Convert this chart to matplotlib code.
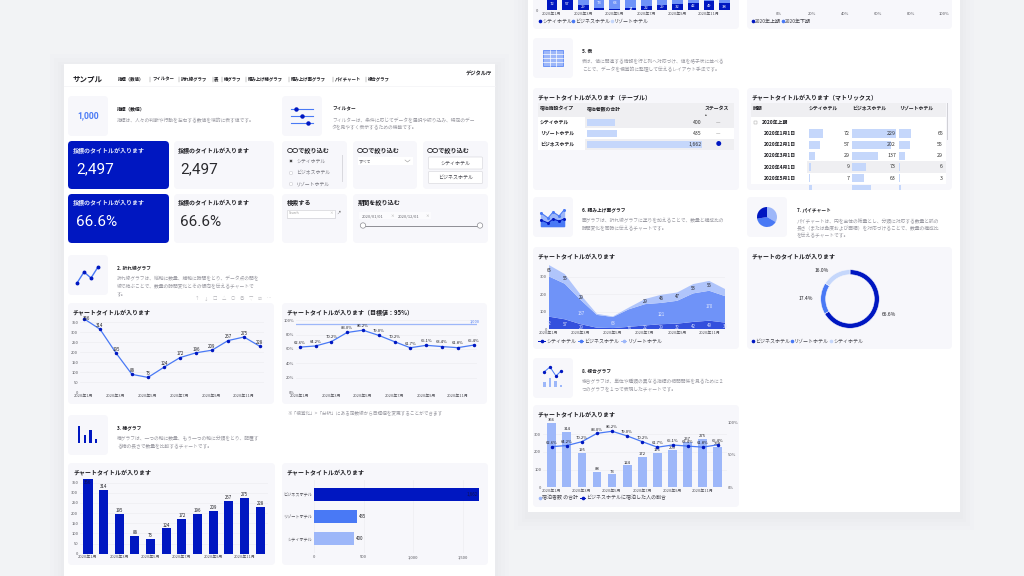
import matplotlib
matplotlib.use("Agg")
import matplotlib.pyplot as plt
from matplotlib.patches import FancyBboxPatch, Rectangle, Circle, Wedge

plt.rcParams['font.family'] = ['Noto Sans CJK JP', 'DejaVu Sans']

# ---------- data ----------
months = [f"2020年{m}月" for m in range(1, 13)]
total_guests = [366, 314, 195, 88, 73, 124, 172, 196, 209, 257, 275, 228]
business_ratio = [62.6, 64.2, 70.2, 83.0, 86.2, 79.0, 70.2, 61.7, 65.1, 63.4, 61.8, 65.4]
city = [72, 57, 29, 9, 7, 14, 22, 29, 32, 42, 49, 38]
business = [229, 202, 137, 73, 63, 100, 121, 121, 130, 162, 170, 150]
resort = [65, 55, 29, 6, 3, 10, 29, 46, 47, 53, 56, 40]
hotel_names = ["シティホテル", "リゾートホテル", "ビジネスホテル"]
hotel_totals = [400, 435, 1662]
half_share = [46.7, 53.3]
donut_labels = ["ビジネスホテル", "リゾートホテル", "シティホテル"]
donut_share = [66.6, 17.4, 16.0]
matrix_dates = ["2020年1月1日", "2020年2月1日", "2020年3月1日", "2020年4月1日", "2020年5月1日"]
matrix_city = [72, 57, 29, 9, 7, 14]
matrix_business = [229, 202, 137, 73, 63, 100]
matrix_resort = [65, 55, 29, 6, 3, 10]
target = 95

# ---------- style ----------
DARK = "#0017C1"; MID = "#4979F5"; LIGHT = "#9DB7F9"; PALE = "#C5D7FB"
AREA_CITY = "#3350DD"; AREA_BIZ = "#6F93F8"; AREA_RES = "#B0C5FB"
PANEL = "#F7F7FB"; INK = "#1F1F24"; GRAY = "#9A9AA2"; BG = "#F2F3F5"; GRID = "#EDEDF2"

fig = plt.figure(figsize=(10.24, 5.76), dpi=100, facecolor=BG)
W, H = 1024, 576
ov = fig.add_axes([0, 0, 1, 1], zorder=0)
ov.set_xlim(0, W); ov.set_ylim(H, 0); ov.axis("off")


def box(x0, y0, x1, y1, fc=PANEL, r=4, ec="none", lw=0, z=1, alpha=None):
    ov.add_patch(FancyBboxPatch((x0, y0), x1 - x0, y1 - y0, boxstyle=f"round,pad=0,rounding_size={r}",
                                fc=fc, ec=ec, lw=lw, zorder=z, alpha=alpha))


def rect(x0, y0, x1, y1, fc, z=2, alpha=None):
    ov.add_patch(Rectangle((x0, y0), x1 - x0, y1 - y0, fc=fc, ec="none", zorder=z, alpha=alpha))


def txt(x, y, s, size=3.4, color=INK, weight="normal", ha="left", va="center", z=5, **kw):
    ov.text(x, y, s, fontsize=size, color=color, fontweight=weight, ha=ha, va=va, zorder=z, **kw)


def page(x0, y0, x1, y1):
    for i, a in zip((14, 10, 6, 3), (0.10, 0.14, 0.2, 0.3)):
        rect(x0 - i, y0 - i + 4, x1 + i, y1 + i + 4, "#E7E8EC", z=0.2, alpha=a)
    rect(x0, y0, x1, y1, "white", z=0.5)


def chart_ax(x0, step, ybase, per_unit, left, right, top):
    ax = fig.add_axes([left / W, 1 - ybase / H, (right - left) / W, (ybase - top) / H], zorder=3)
    ax.set_xlim((left - x0) / step, (right - x0) / step)
    ax.set_ylim(0, (ybase - top) / per_unit)
    ax.patch.set_alpha(0)
    for s in ax.spines.values():
        s.set_visible(False)
    ax.tick_params(length=0, labelsize=2.9, labelcolor="#55555c", pad=1.2)
    ax.grid(axis="y", color=GRID, lw=0.5)
    ax.set_axisbelow(True)
    ax.set_xticks(range(0, 12, 2))
    ax.set_xticklabels(months[0::2])
    return ax


def labels(ax, xs, ys, strs, dy=1.6, color=INK, size=3.2):
    for x, y, s in zip(xs, ys, strs):
        ax.annotate(s, (x, y), xytext=(0, dy), textcoords="offset points", ha="center", va="bottom",
                    fontsize=size, color=color, zorder=6, annotation_clip=False)


def section(ix, iy, title, lines, tx):
    box(ix, iy, ix + 40, iy + 40, r=4)
    txt(tx, iy + 13, title, size=3.4, weight="bold")
    for k, l in enumerate(lines):
        txt(tx, iy + 24 + k * 7.3, l, size=3.45, color=GRAY)


def legend_dot(x, y, s, c):
    ov.plot([x], [y], "o", ms=1.6, color=c, zorder=5)
    txt(x + 2.2, y, s, size=3.6, color="#44444c")


def legend_line(x0, x1, y, s, c):
    ov.plot([x0, x1], [y, y], color=c, lw=0.7, zorder=5)
    ov.plot([(x0 + x1) / 2], [y], "o", ms=1.6, color=c, zorder=5)
    txt(x1 + 1.5, y, s, size=3.6, color="#44444c")


# ---------- pages ----------
page(64, 64, 495, 590)
page(528, -20, 960, 512)
ov.plot([64, 495], [86, 86], color="#F3F3F5", lw=0.5, zorder=1)

# ---------- header ----------
txt(73, 79, "サンプル", size=5.4, weight="bold")
nav = [(118, "指標（数値）"), (152, "フィルター"), (181, "折れ線グラフ"), (214, "表"), (224, "棒グラフ"),
       (248, "積み上げ棒グラフ"), (291, "積み上げ面グラフ"), (335, "パイチャート"), (368, "複合グラフ")]
for x, s in nav:
    txt(x, 79, s, size=3.2, weight="bold")
for x in [149.5, 178.5, 212.5, 221.5, 245.5, 289, 332.5, 365.5]:
    ov.plot([x, x], [76.5, 81.5], color="#777", lw=0.3, zorder=4)
txt(492, 74, "デジタル庁", size=3.8, weight="bold", ha="right")

# ---------- section 1 ----------
box(68, 96, 108, 136)
txt(88, 116, "1,000", size=6.2, color=MID, weight="bold", ha="center", family="Roboto")
txt(117, 109, "指標（数値）", size=3.4, weight="bold")
txt(117, 121, "指標は、人々の判断や行動を左右する数値を端的に表す値です。", size=3.45, color=GRAY)
box(282, 96, 322, 136)
for y, p in zip((109, 116, 123), (296, 302, 308)):
    ov.plot([291, 313], [y, y], color=MID, lw=0.8, zorder=3)
    ov.plot([p], [y], "o", ms=2.2, color=DARK, zorder=4)
txt(332, 109, "フィルター", size=3.4, weight="bold")
txt(332, 121, "フィルターは、条件に応じてデータを選択や絞り込み、特定のデー", size=3.45, color=GRAY)
txt(332, 128, "タを見やすく表示するための機能です。", size=3.45, color=GRAY)

for y0, y1, v in ((141, 189, "2,497"), (194, 243, "66.6%")):
    box(68, y0, 169, y1, fc=DARK, r=4)
    box(174, y0, 274, y1)
    txt(73, y0 + 9, "指標のタイトルが入ります", size=4.3, color="#E8ECFB", weight="bold")
    txt(178, y0 + 9, "指標のタイトルが入ります", size=4.3, color=INK, weight="bold")
    txt(76, y0 + 28, v, size=11, color="white", family="Roboto")
    txt(180, y0 + 28, v, size=11, color="#2A2A2E", family="Roboto")

box(282, 141, 347, 189); box(353, 141, 417, 189); box(423, 141, 488, 189)
box(282, 194, 347, 243); box(353, 194, 488, 243)
for x in (287, 357, 427):
    txt(x, 150, "〇〇で絞り込む", size=4.4, weight="bold")
for y, s, on in ((161, "シティホテル", True), (173, "ビジネスホテル", False), (184, "リゾートホテル", False)):
    ov.add_patch(Circle((291, y), 1.7, fc="white", ec="#CCCCD2", lw=0.4, zorder=4))
    if on:
        ov.add_patch(Circle((291, y), 1.1, fc="#333", ec="none", zorder=5))
    txt(296, y, s, size=3.5, color="#77777f")
rect(341.5, 155, 342.8, 182, "#D9D9DE", z=3)
rect(358, 157, 413, 165, "white", z=2)
txt(359, 161, "すべて", size=3, color="#66666e")
ov.plot([405, 407.5, 410], [160, 162, 160], color="#999", lw=0.4, zorder=4)
for y0, s in ((157, "シティホテル"), (171.5, "ビジネスホテル")):
    box(428.5, y0, 482.5, y0 + 12, fc="white", r=1, ec="#D3D3D8", lw=0.4, z=3)
    txt(455.5, y0 + 6, s, size=3.6, color="#44444c", ha="center")
txt(287, 203, "検索する", size=4.4, weight="bold")
rect(287, 209.5, 335, 217.5, "white", z=2)
ov.add_patch(Rectangle((287, 209.5), 48, 8, fc="none", ec="#C8C8CE", lw=0.4, zorder=3))
txt(289, 213.5, "Search", size=2.4, color="#999")
txt(331, 213.5, "×", size=2.6, color="#AAA", ha="center")
txt(338, 213, "↗", size=3, color="#555", ha="center")
txt(358, 203, "期間を絞り込む", size=4.4, weight="bold")
rect(359, 212, 431, 219, "#FBFBFD", z=2)
txt(362, 216, "2020/01/01", size=2.9, color="#66666e")
txt(392, 216, "×", size=2.6, color="#999", ha="center")
txt(397.5, 216, "2020/12/01", size=2.9, color="#66666e")
txt(427, 216, "×", size=2.6, color="#999", ha="center")
ov.plot([363, 480], [225.5, 225.5], color="#8E8E94", lw=0.7, zorder=3)
for x in (363, 480):
    ov.add_patch(Circle((x, 225.5), 2.7, fc="white", ec="#8E8E94", lw=0.5, zorder=4))

# ---------- section 2 ----------
section(68, 255, "2. 折れ線グラフ", ["折れ線グラフは、縦軸に数量、横軸に時間をとり、データ点の間を",
                                  "線で結ぶことで、数量の時間変化とその傾向を伝えるチャートで", "す。"], 117)
icon_x = [77, 84, 91, 98]; icon_y = [283, 272, 278, 267]
ov.plot(icon_x, icon_y, "-o", color=MID, lw=1.0, ms=1.8, mfc=DARK, mec=DARK, zorder=3)
for x, s in zip(range(197, 272, 9), "↑↓□△○◎▽☑⋯"):
    txt(x, 299, s, size=3.2, color="#B5B5BA", ha="center")
box(68, 303, 274, 404); box(282, 303, 487, 404)
txt(73, 312, "チャートタイトルが入ります", size=4.3, weight="bold")
txt(287, 312, "チャートタイトルが入ります（目標値：95%）", size=4.3, weight="bold")
txt(287, 414, "※「視覚化」>「分析」にある定数線から目標値を変更することができます", size=3.35, color=GRAY, z=2)

ax = chart_ax(84, 16, 392, 0.2, 80, 264, 316)
ax.set_yticks(range(0, 351, 50))
ax.plot(range(12), total_guests, "-o", color=MID, lw=0.9, ms=1.5, mfc=DARK, mec=DARK)
labels(ax, range(1, 12), total_guests[1:], [str(v) for v in total_guests[1:]], dy=0.8)
ax.text(0.15, total_guests[0], str(total_guests[0]), fontsize=3.2, color=INK, ha="center", va="center", zorder=6)

ax = chart_ax(299.7, 15.8, 392, 0.717, 296, 477, 316)
ax.set_yticks(range(0, 101, 20)); ax.set_yticklabels([f"{v}%" for v in range(0, 101, 20)])
ax.axhline(target, color=LIGHT, lw=0.9)
ax.text(11.4, target + 0.8, "1,000", fontsize=2.8, color=MID, ha="right", va="bottom")
ax.plot(range(12), business_ratio, "-o", color=MID, lw=0.9, ms=1.5, mfc=DARK, mec=DARK)
labels(ax, range(12), business_ratio, [f"{v}%" for v in business_ratio], dy=1.6, size=3)

# ---------- section 3 ----------
section(68, 415, "3. 棒グラフ", ["棒グラフは、一つの軸に数量、もう一つの軸に分類をとり、配置す",
                              "る棒の長さで数量を比較するチャートです。"], 117)
for x, h in zip((79, 85, 90.3, 96), (17, 8, 13, 4)):
    rect(x - 1.35, 443 - h, x + 1.35, 443, DARK, z=3)
box(68, 463, 275, 565); box(282, 463, 488, 565)
txt(74, 472, "チャートタイトルが入ります", size=4.3, weight="bold")
txt(287, 472, "チャートタイトルが入ります", size=4.3, weight="bold")

ax = chart_ax(88, 15.65, 553.7, 0.2034, 80, 268, 478)
ax.set_yticks(range(0, 351, 50))
ax.bar(range(12), total_guests, width=0.58, color=DARK)
labels(ax, range(1, 12), total_guests[1:], [str(v) for v in total_guests[1:]], dy=0.7)
ax.text(0, total_guests[0] - 4, str(total_guests[0]), fontsize=3.2, color="#12124a", ha="center", va="top")

bx = fig.add_axes([314 / W, 1 - 553 / H, 170 / W, 73 / H], zorder=3)
bx.set_xlim(0, 170 / 0.0993); bx.set_ylim(-0.66, 2.66)
bx.patch.set_alpha(0)
for s in bx.spines.values():
    s.set_visible(False)
bar_colors = [LIGHT, MID, DARK]
bx.barh(range(3), hotel_totals, height=0.55, color=bar_colors)
bx.set_yticks(range(3)); bx.set_yticklabels(hotel_names)
bx.set_xticks([0, 500, 1000, 1500]); bx.set_xticklabels(["0", "500", "1,000", "1,500"])
bx.tick_params(length=0, labelsize=3, labelcolor="#55555c", pad=1.5)
bx.grid(axis="x", color=GRID, lw=0.5); bx.set_axisbelow(True)
bx.text(hotel_totals[0] + 20, 0, f"{hotel_totals[0]:,}", fontsize=3.2, color=INK, va="center")
bx.text(hotel_totals[1] + 20, 1, f"{hotel_totals[1]:,}", fontsize=3.2, color=INK, va="center")
bx.text(hotel_totals[2] - 15, 2, f"{hotel_totals[2]:,}", fontsize=3.2, color="#12124a", va="center", ha="right")

# ---------- right page top: stacked bars (cut by the picture edge) ----------
box(533, -60, 739, 29); box(747, -60, 952, 29)
ax = chart_ax(552, 15.7, 10, 0.176, 540, 732, -60)
ax.set_yticks([0])
ax.grid(False)
b2 = [a + b for a, b in zip(city, business)]
ax.bar(range(12), city, width=0.68, color=DARK)
ax.bar(range(12), business, bottom=city, width=0.68, color=AREA_BIZ)
ax.bar(range(12), resort, bottom=b2, width=0.68, color=AREA_RES)
for i, v in enumerate(city):
    if v > 12:
        ax.text(i, v / 2 if v < 55 else 32, str(v), fontsize=3, color="white", ha="center", va="center")
for i in (3, 4):
    ax.text(i, 40, str(business[i]), fontsize=3, color="white", ha="center", va="center")
legend_dot(540, 21, "シティホテル", DARK)
legend_dot(573, 21, "ビジネスホテル", MID)
legend_dot(612, 21, "リゾートホテル", PALE)

ax = fig.add_axes([779 / W, 1 - 10 / H, 165 / W, 30 / H], zorder=3)
ax.set_xlim(0, 100); ax.set_ylim(0, 30); ax.patch.set_alpha(0)
for s in ax.spines.values():
    s.set_visible(False)
ax.barh([20], [half_share[0]], height=17.5, color=DARK)
ax.barh([20], [half_share[1]], left=[half_share[0]], height=17.5, color=MID)
ax.set_yticks([]); ax.set_xticks(range(0, 101, 20)); ax.set_xticklabels([f"{v}%" for v in range(0, 101, 20)])
ax.tick_params(length=0, labelsize=2.9, labelcolor="#55555c", pad=1.2)
legend_dot(753, 21, "2020年上期", DARK)
legend_dot(783, 21, "2020年下期", MID)

# ---------- section 5: tables ----------
section(533, 38, "5. 表", ["表は、値に関連する情報を行と列へ対応づけ、値を格子状に並べる",
                          "ことで、データを視覚的に整理して伝えるレイアウト手法です。"], 582)
ov.add_patch(Rectangle((543, 50), 20, 16, fc=LIGHT, ec=MID, lw=0.5, zorder=3))
for x in (549.7, 556.3):
    ov.plot([x, x], [50, 66], color="white", lw=0.5, zorder=4)
for y in (54, 58, 62):
    ov.plot([543, 563], [y, y], color="white", lw=0.5, zorder=4)
box(533, 88, 739, 190); box(747, 88, 952, 190)
txt(538, 97, "チャートタイトルが入ります（テーブル）", size=4.3, weight="bold")
txt(752, 97, "チャートタイトルが入ります（マトリックス）", size=4.3, weight="bold")
rect(538, 103, 734, 117, "#EFEFF2")
txt(540, 108.5, "宿泊施設タイプ", size=3.5, weight="bold")
txt(587, 108.5, "宿泊者数の合計", size=3.5, weight="bold")
txt(705, 108.5, "ステータス", size=3.5, weight="bold")
txt(705, 114, "▴", size=2.6, color="#444")
scale_t = 115 / max(hotel_totals)
status = ["—", "—", "●"]
for i, (n, v, st) in enumerate(zip(hotel_names, hotel_totals, status)):
    y0 = 117 + i * 11
    rect(538, y0, 734, y0 + 11, "#EFEFF2" if i != 1 else "white")
    rect(538, y0, 585, y0 + 11, "white", z=2.1)
    rect(587, y0 + 1.6, 587 + v * scale_t, y0 + 9.4, PALE, z=3)
    txt(540, y0 + 5.5, n, size=3.5, weight="bold")
    txt(702, y0 + 5.5, f"{v:,}", size=3.8, color="#333", ha="right")
    txt(718, y0 + 5.5, st, size=3.6 if st != "●" else 4, color="#777" if st != "●" else DARK, ha="center")

rect(751, 103, 946, 117, "#EFEFF2")
for x, s in ((753, "時期"), (809, "シティホテル"), (852, "ビジネスホテル"), (899, "リゾートホテル")):
    txt(x, 108.5, s, size=3.5, weight="bold")
rect(751, 117, 946, 128, "white")
ov.add_patch(Rectangle((754, 121), 3, 3, fc="none", ec="#999", lw=0.3, zorder=4))
txt(761.5, 122.5, "2020年上期", size=3.5, weight="bold")
sc = 44 / 229
row_h = 11.2
for i, d in enumerate(matrix_dates):
    y0 = 127.8 + i * row_h
    rect(751, y0, 946, y0 + row_h, "#EFEFF2" if i in (3,) else "white")
    rect(751, y0, 807, y0 + row_h, "white", z=2.1)
    txt(764, y0 + 5.6, d, size=3.5, weight="bold")
    for col, x0, xr in ((matrix_city, 809, 850), (matrix_business, 852, 896), (matrix_resort, 899, 943)):
        rect(x0, y0 + 1.5, x0 + col[i] * sc, y0 + row_h - 1.5, PALE, z=3)
        txt(xr, y0 + 5.6, str(col[i]), size=3.8, color="#333", ha="right")
y0 = 127.8 + 5 * row_h
for col, x0 in ((matrix_city, 809), (matrix_business, 852), (matrix_resort, 899)):
    rect(x0, y0 + 1.2, x0 + col[5] * sc, 189.5, PALE, z=3)
rect(946.5, 103, 948, 140, "#D0D0D6", z=4)

# ---------- section 6 / 7 ----------
section(533, 197, "6. 積み上げ面グラフ", ["面グラフは、折れ線グラフに塗りを加えることで、数量と構成比の",
                                     "時間変化を同時に伝えるチャートです。"], 582)
ix = [541, 548, 553, 559, 564]
ov.fill_between(ix, [213, 218, 212, 216, 210], [226, 226, 226, 226, 226], color=LIGHT, zorder=3)
ov.fill_between(ix, [220, 223, 219, 221, 219], [226, 226, 226, 226, 226], color=MID, zorder=3)
ov.plot(ix, [220, 223, 219, 221, 219], "-o", ms=1.2, color=DARK, lw=0.7, zorder=4)
ov.plot(ix, [213, 218, 212, 216, 210], "-o", ms=1.2, color=MID, lw=0.7, zorder=4)
section(747, 197, "7. パイチャート", ["パイチャートは、円を全体の総量とし、分類に対応する数量と弧の",
                                   "長さ（または角度および面積）を対応づけることで、数量の構成比", "を伝えるチャートです。"], 797)
for t1, t2, col in ((-90, 30, LIGHT), (30, 170, MID), (170, 270, DARK)):
    ov.add_patch(Wedge((767, 217), 10, t1, t2, fc=col, ec="none", zorder=3))
box(533, 247, 739, 349); box(747, 247, 952, 349)
txt(538, 256, "チャートタイトルが入ります", size=4.3, weight="bold")
txt(752, 256, "チャートのタイトルが入ります", size=4.3, weight="bold")

ax = chart_ax(548.7, 16.05, 329.3, 0.176, 547, 728, 262)
ax.set_xlim(0, 11); ax.set_position([548.7 / W, 1 - 329.3 / H, 176.6 / W, 67.3 / H])
ax.set_yticks([0, 100, 200, 300])
ax.stackplot(range(12), city, business, resort, colors=[AREA_CITY, AREA_BIZ, AREA_RES], lw=0)
for i in range(12):
    if city[i] > 12:
        ax.text(i, city[i] / 2 - 3, str(city[i]), fontsize=3.1, color="#DDE3FB", ha="center", va="center")
    if i in (2, 4, 7, 10):
        ax.text(i, city[i] + business[i] * 0.5 - 5, str(business[i]), fontsize=3.1, color="#E6EBFD", ha="center", va="center")
    if i in (0, 1, 2, 6, 7, 8, 9, 10):
        ax.text(i, city[i] + business[i] + resort[i] * 0.55, str(resort[i]), fontsize=3.1, color=INK, ha="center", va="center")
legend_line(538, 545, 341, "シティホテル", DARK)
legend_line(578, 583, 341, "ビジネスホテル", MID)
legend_line(621, 626, 341, "リゾートホテル", LIGHT)

dx = fig.add_axes([815 / W, 1 - 334 / H, 70 / W, 70 / H], zorder=3)
dx.pie(donut_share, colors=[DARK, MID, PALE], startangle=90, counterclock=False, radius=1,
       wedgeprops=dict(width=0.17, lw=0.4, edgecolor=PANEL))
dx.set_xlim(-35 / 29.3, 35 / 29.3); dx.set_ylim(-35 / 29.3, 35 / 29.3)
txt(882, 315, f"{donut_share[0]}%", size=3.6)
txt(813, 298, f"{donut_share[1]}%", size=3.6, ha="right")
txt(829, 270, f"{donut_share[2]}%", size=3.6, ha="right")
for x, s, c in zip((753, 792, 831), donut_labels, (DARK, MID, PALE)):
    legend_dot(x, 341, s, c)

# ---------- section 8 ----------
section(533, 358, "8. 複合グラフ", ["複合グラフは、単位や種類の異なる指標の相関関係を見るために２",
                               "つのグラフを１つで表現したチャートです。"], 582)
for x, h in zip((544.5, 550, 555.5, 561), (5, 9, 6, 2)):
    rect(x - 1.2, 386.5 - h, x + 1.2, 386.5, LIGHT, z=3)
ov.plot([544, 550, 556, 561], [372, 367, 376, 371], "-o", ms=1.4, color=MID, mfc=DARK, mec=DARK, lw=0.7, zorder=4)
box(533, 405, 739, 507)
txt(538, 414, "チャートタイトルが入ります", size=4.3, weight="bold")
ax = chart_ax(551.7, 15.1, 487.3, 0.1767, 543, 727, 420)
ax.set_yticks([0, 100, 200, 300])
ax.bar(range(12), total_guests, width=0.58, color=LIGHT)
labels(ax, range(12), total_guests, [str(v) for v in total_guests], dy=0.5, size=3)
ax2 = ax.twinx()
ax2.patch.set_alpha(0)
for s in ax2.spines.values():
    s.set_visible(False)
ax2.set_ylim(0, 67.3 / 0.65)
ax2.set_yticks([0, 50, 100]); ax2.set_yticklabels(["0%", "50%", "100%"])
ax2.tick_params(length=0, labelsize=2.9, labelcolor="#55555c", pad=0.5)
ax2.plot(range(12), business_ratio, "-o", color=MID, lw=0.9, ms=1.5, mfc=DARK, mec=DARK)
labels(ax2, range(12), business_ratio, [f"{v}%" for v in business_ratio], dy=1.3, size=3)
legend_dot(540, 498, "宿泊者数 の合計", LIGHT)
legend_line(580, 585, 498, "ビジネスホテルに宿泊した人の割合", DARK)

fig.savefig("out.png", dpi=100, facecolor=BG)
